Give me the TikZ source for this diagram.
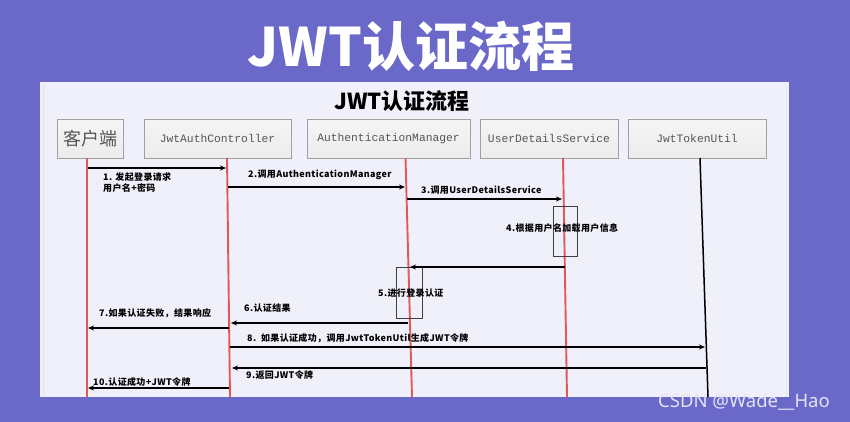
\documentclass[tikz,border=0pt]{standalone}
\usepackage{fontspec}
\setmainfont{Noto Sans CJK SC}
\newfontfamily\cjkf{Noto Sans CJK SC}
\newfontfamily\cjksp[LetterSpace=4]{Noto Sans CJK SC}
\newfontfamily\monof{Liberation Mono}
\newfontfamily\wmf{Noto Sans}
\usetikzlibrary{arrows.meta}
\definecolor{bgpurple}{HTML}{6A68C8}
\definecolor{panel}{HTML}{EFF0F9}
\definecolor{lifered}{HTML}{E05858}
\definecolor{hdrtext}{HTML}{555555}
\definecolor{hdrborder}{HTML}{A0A0A0}
\tikzset{
  hdr/.style={draw=hdrborder, line width=0.8pt, top color=white!92!gray, bottom color=white!85!gray, inner sep=0pt, font=\monof\fontsize{11.3}{13}\selectfont, text=hdrtext},
  life/.style={draw=lifered, line width=1.9pt},
  msg/.style={draw=black, line width=1.3pt, -{Stealth[length=6pt,width=5pt]}},
  lbl/.style={font=\cjksp\bfseries\fontsize{9}{11}\selectfont, text=black, inner sep=0pt, anchor=west, align=left},
  actbox/.style={draw=black!75, line width=1pt},
}
\begin{document}
\begin{tikzpicture}[x=1pt,y=-1pt]
\useasboundingbox (0,0) rectangle (850,422);
\fill[bgpurple] (0,0) rectangle (850,422);
% panel
\fill[panel] (40,82) rectangle (789,397);
\draw[white!80!bgpurple, line width=1pt] (43,84) -- (43,397);
\draw[white!85!bgpurple, line width=1pt] (786,84) -- (786,397);
% titles
\node[text=white, font=\cjkf\bfseries\fontsize{53}{58}\selectfont, inner sep=0pt] (maintitle) at (411,46) {JWT认证流程};
\node[text=black, font=\cjkf\bfseries\fontsize{22}{26}\selectfont, inner sep=0pt] (subtitle) at (402,101) {JWT认证流程};
% headers
\node[hdr, minimum width=66pt, minimum height=39pt, font=\cjkf\fontsize{18}{20}\selectfont] (client) at (90,138.5) {客户端};
\node[hdr, minimum width=147pt, minimum height=39pt] (ctrl) at (217.5,138.5) {JwtAuthController};
\node[hdr, minimum width=163pt, minimum height=39pt] (mgr) at (388.5,138.5) {AuthenticationManager};
\node[hdr, minimum width=138pt, minimum height=39pt] (uds) at (549,138.5) {UserDetailsService};
\node[hdr, minimum width=138pt, minimum height=39pt] (jtu) at (697,138.5) {JwtTokenUtil};
% lifeline coordinates
\coordinate (cT) at (87,158); \coordinate (cB) at (87,397);
\coordinate (aT) at (227,158); \coordinate (aB) at (230,397);
\coordinate (mT) at (405.5,158); \coordinate (mB) at (412,397);
\coordinate (uT) at (563,158); \coordinate (uB) at (567,397);
\coordinate (jT) at (700,158); \coordinate (jB) at (708,397);
\draw[life] (cT) -- (cB);
\draw[life] (aT) -- (aB);
\draw[life] (mT) -- (mB);
\draw[life] (uT) -- (uB);
\draw[draw=black, line width=1.5pt] (jT) -- (jB);
% activation boxes
\node[actbox, minimum width=24pt, minimum height=50pt, inner sep=0pt] (act4) at (565,231) {};
\node[actbox, minimum width=26pt, minimum height=51pt, inner sep=0pt] (act5) at (409,292.5) {};
% message endpoints
\coordinate (m1s) at (88,168);   \coordinate (m1e) at (226,168);
\coordinate (m2s) at (228,187);  \coordinate (m2e) at (405,187);
\coordinate (m3s) at (407,199);  \coordinate (m3e) at (562,199);
\coordinate (m4s) at (565,267);  \coordinate (m4e) at (410,267);
\coordinate (m6s) at (408,323);  \coordinate (m6e) at (231,323);
\coordinate (m7s) at (229,328);  \coordinate (m7e) at (88,328);
\coordinate (m8s) at (230,347);  \coordinate (m8e) at (705,347);
\coordinate (m9s) at (706,368);  \coordinate (m9e) at (232,368);
\coordinate (m10s) at (229,388); \coordinate (m10e) at (88,388);
\draw[msg] (m1s) -- (m1e);
\draw[msg] (m2s) -- (m2e);
\draw[msg] (m3s) -- (m3e);
\draw[msg] (m4s) -- (m4e);
\draw[msg] (m6s) -- (m6e);
\draw[msg] (m7s) -- (m7e);
\draw[msg] (m8s) -- (m8e);
\draw[msg] (m9s) -- (m9e);
\draw[msg] (m10s) -- (m10e);
% labels
\node[lbl] (l1) at (103,183) {1. 发起登录请求\\用户名+密码};
\node[lbl] (l2) at (248,175) {2.调用AuthenticationManager};
\node[lbl] (l3) at (421,190) {3.调用UserDetailsService};
\node[lbl] (l4) at (506,228) {4.根据用户名加载用户信息};
\node[lbl] (l5) at (378,293) {5.进行登录认证};
\node[lbl] (l6) at (244,308) {6.认证结果};
\node[lbl] (l7) at (99,313) {7.如果认证失败，结果响应};
\node[lbl] (l8) at (247,338) {8.~~如果认证成功，调用JwtTokenUtil生成JWT令牌};
\node[lbl] (l9) at (246,375) {9.返回JWT令牌};
\node[lbl] (l10) at (93,382) {10.认证成功+JWT令牌};
% watermark
\node[text=white!82!bgpurple, font=\wmf\fontsize{18.5}{22}\selectfont, inner sep=0pt, anchor=west] (wm) at (658,402) {CSDN @Wade\_\_Hao};
\end{tikzpicture}
\end{document}
